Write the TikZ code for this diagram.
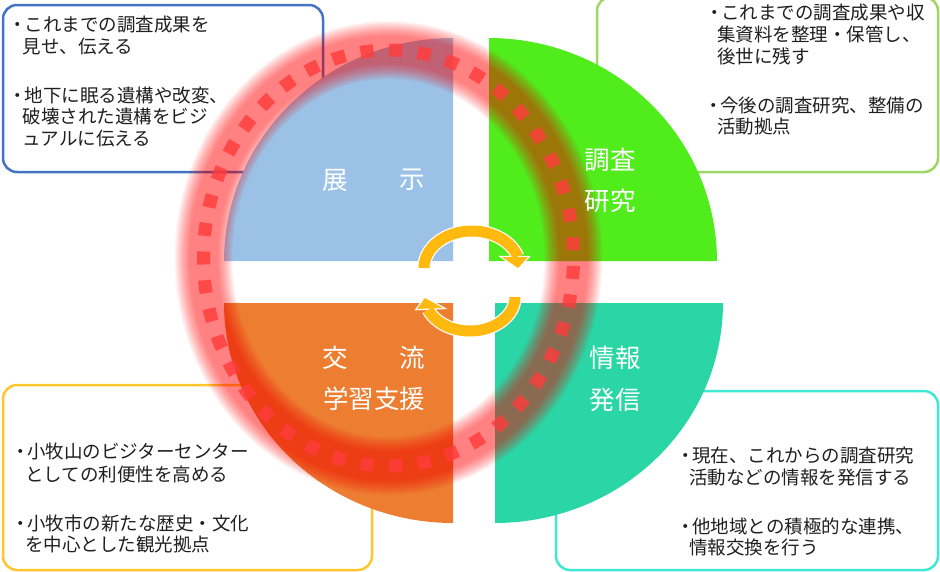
\documentclass[tikz,border=0pt]{standalone}
\usepackage{fontspec}
\newfontfamily\jp{Noto Sans CJK JP}[Scale=1]
\definecolor{qblue}{HTML}{9BC2E6}
\definecolor{qgreen}{HTML}{50EC1C}
\definecolor{qorange}{HTML}{ED7D31}
\definecolor{qteal}{HTML}{2BD6A6}
\definecolor{bblue}{HTML}{4472C4}
\definecolor{bgreen}{HTML}{A0D664}
\definecolor{borange}{HTML}{FFC62E}
\definecolor{bteal}{HTML}{3FE8D2}
\definecolor{arrowc}{HTML}{FFB90F}
\definecolor{ringc}{HTML}{FF3C3C}
\tikzset{
  x=1pt,y=-1pt,
  infobox/.style={line width=2.5pt,rounded corners=14pt,fill=white},
  tl/.style={anchor=west,inner sep=0pt,font=\jp\fontsize{18.5}{18.5}\selectfont,text=black!88,text height=14pt,text depth=2pt},
  lab/.style={anchor=center,inner sep=0pt,font=\jp\fontsize{25.5}{25.5}\selectfont,text=white},
}
\newcommand{\quadrant}[7]{% colour, cx, cy, rx, ry, from, to
  \fill[#1] (#2,#3) -- plot[domain=#6:#7,samples=60,variable=\t] ({#2+#4*cos(\t)},{#3+#5*sin(\t)}) -- cycle;}
\newcommand{\bul}{\llap{・\kern-2.5pt}}
\begin{document}
\begin{tikzpicture}
\useasboundingbox (0,0) rectangle (940,571);
\clip (0,0) rectangle (940,571);
\fill[white] (0,0) rectangle (940,571);
% info boxes
\draw[infobox,draw=bblue] (3,5) rectangle (323,172);
\draw[infobox,draw=bgreen] (597,-3) rectangle (938,172);
\draw[infobox,draw=borange] (3,385) rectangle (372,570);
\draw[infobox,draw=bteal] (556,391) rectangle (938,570);
% quadrants
\quadrant{qblue}{453}{261}{229}{223}{180}{270}
\quadrant{qgreen}{489}{261}{228}{223}{270}{360}
\quadrant{qorange}{453}{303}{229}{220}{90}{180}
\quadrant{qteal}{495}{303}{228}{220}{0}{90}
% glowing ring
\foreach \w in {28,30,...,58}{
  \draw[red,opacity=.04,line width=\w pt] (388.5,258) ellipse [x radius=185,y radius=208];
}
\draw[ringc,opacity=.8,line width=13pt,dash pattern=on 13pt off 15.74pt,dash phase=20.87pt] (388.5,258) ellipse [x radius=185,y radius=208];
% cycle arrows
\draw[white,line width=13.5pt] plot[domain=-180:-18,samples=50,variable=\t] ({472+48*cos(\t)},{268+37*sin(\t)});
\fill[white,draw=white,line width=2.5pt] (518,268) -- (528,257) -- (502,257) -- cycle;
\draw[white,line width=13.5pt] plot[domain=0:158,samples=50,variable=\t] ({470+45*cos(\t)},{297+34*sin(\t)});
\fill[white,draw=white,line width=2.5pt] (425,298) -- (417,309) -- (443,308) -- cycle;
\draw[arrowc,line width=11pt] plot[domain=-180:-18,samples=50,variable=\t] ({472+48*cos(\t)},{268+37*sin(\t)});
\fill[arrowc] (518,268) -- (528,257) -- (502,257) -- cycle;
\draw[arrowc,line width=11pt] plot[domain=0:158,samples=50,variable=\t] ({470+45*cos(\t)},{297+34*sin(\t)});
\fill[arrowc] (425,298) -- (417,309) -- (443,308) -- cycle;
% quadrant labels
\node[lab] (l1a) at (335,180) {展};
\node[lab] (l1b) at (412,180) {示};
\node[lab] (l2a) at (610,160) {調査};
\node[lab] (l2b) at (610,201) {研究};
\node[lab] (l3a) at (335,358) {交};
\node[lab] (l3b) at (412,358) {流};
\node[lab] (l3c) at (374,399) {学習支援};
\node[lab] (l4a) at (615,358) {情報};
\node[lab] (l4b) at (615,400) {発信};
% texts
\node[tl] (a1) at (24.5,25) {\bul これまでの調査成果を};
\node[tl] (a2) at (22.5,47) {見せ、伝える};
\node[tl] (a3) at (24.5,96) {\bul 地下に眠る遺構や改変、};
\node[tl] (a4) at (22.5,117) {破壊された遺構をビジ};
\node[tl] (a5) at (22.5,139) {ュアルに伝える};
\node[tl] (b1) at (721,13) {\bul これまでの調査成果や収};
\node[tl] (b2) at (717,35) {集資料を整理・保管し、};
\node[tl] (b3) at (717,57) {後世に残す};
\node[tl] (b4) at (720,106) {\bul 今後の調査研究、整備の};
\node[tl] (b5) at (717,127) {活動拠点};
\node[tl] (c1) at (27,452) {\bul 小牧山のビジターセンター};
\node[tl] (c2) at (25,475) {としての利便性を高める};
\node[tl] (c3) at (27,524) {\bul 小牧市の新たな歴史・文化};
\node[tl] (c4) at (25,545) {を中心とした観光拠点};
\node[tl] (d1) at (692,456) {\bul 現在、これからの調査研究};
\node[tl] (d2) at (689,478) {活動などの情報を発信する};
\node[tl] (d3) at (692,527) {\bul 他地域との積極的な連携、};
\node[tl] (d4) at (689,548) {情報交換を行う};
\end{tikzpicture}
\end{document}
